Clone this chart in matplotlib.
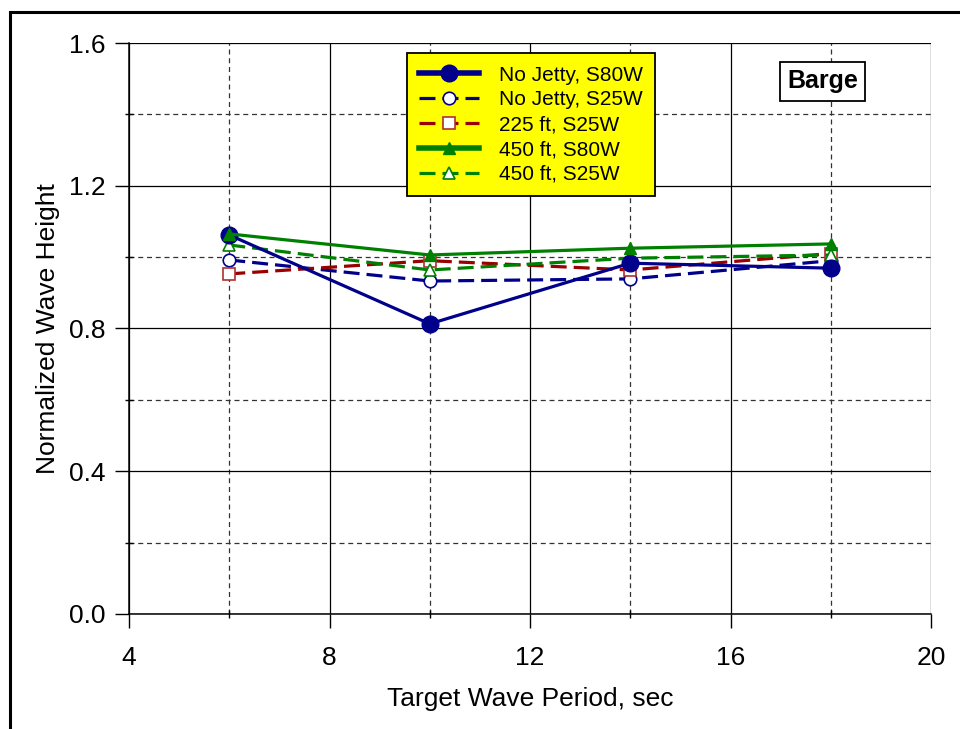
import matplotlib

matplotlib.use("Agg")
import matplotlib.pyplot as plt
from matplotlib.patches import Rectangle
from matplotlib.ticker import FormatStrFormatter, MultipleLocator

plt.rcParams["font.family"] = ["Liberation Sans", "DejaVu Sans"]

periods = [6, 10, 14, 18]

no_jetty_s80w = [1.062, 0.813, 0.983, 0.969]
no_jetty_s25w = [0.992, 0.933, 0.939, 0.990]
ft225_s25w = [0.953, 0.990, 0.964, 1.010]
ft450_s80w = [1.065, 1.006, 1.025, 1.037]
ft450_s25w = [1.034, 0.964, 0.997, 1.006]

NAVY = "#00008b"
DARKRED = "#990000"
GREEN = "#008000"
DASH = (0, (5, 2.2))

fig = plt.figure(figsize=(9.6, 7.29), dpi=100)
ax = fig.add_axes([0.1344, 0.1578, 0.8354, 0.7832])

# outer frame around the whole chart
fig.patches.append(
    Rectangle(
        (10 / 960, -0.1), 1.2, 1.1 - 12 / 729,
        transform=fig.transFigure, fill=False, edgecolor="black",
        linewidth=2.2, zorder=0,
    )
)

ax.plot(periods, no_jetty_s80w, color=NAVY, linewidth=2.3, marker="o",
        markersize=12, markerfacecolor=NAVY, markeredgecolor=NAVY,
        label="No Jetty, S80W", zorder=5)
ax.plot(periods, no_jetty_s25w, color=NAVY, linewidth=2.3, linestyle=DASH,
        marker="o", markersize=9, markerfacecolor="white",
        markeredgecolor=NAVY, markeredgewidth=1.2,
        label="No Jetty, S25W", zorder=4)
ax.plot(periods, ft225_s25w, color=DARKRED, linewidth=2.3, linestyle=DASH,
        marker="s", markersize=9, markerfacecolor="white",
        markeredgecolor="#b03030", markeredgewidth=1.2,
        label="225 ft, S25W", zorder=4)
ax.plot(periods, ft450_s80w, color=GREEN, linewidth=2.3, marker="^",
        markersize=9, markerfacecolor=GREEN, markeredgecolor=GREEN,
        label="450 ft, S80W", zorder=5)
ax.plot(periods, ft450_s25w, color=GREEN, linewidth=2.3, linestyle=DASH,
        marker="^", markersize=9, markerfacecolor="white",
        markeredgecolor=GREEN, markeredgewidth=1.2,
        label="450 ft, S25W", zorder=4)

ax.set_xlim(4, 20)
ax.set_ylim(0, 1.6)
ax.xaxis.set_major_locator(MultipleLocator(4))
ax.xaxis.set_minor_locator(MultipleLocator(2))
ax.yaxis.set_major_locator(MultipleLocator(0.4))
ax.yaxis.set_minor_locator(MultipleLocator(0.2))
ax.yaxis.set_major_formatter(FormatStrFormatter("%.1f"))

ax.grid(which="major", color="black", linewidth=0.9, linestyle="-")
ax.grid(which="minor", color="#333333", linewidth=0.9, linestyle=(0, (4, 3)))
ax.set_axisbelow(True)

for side in ("top", "right"):
    ax.spines[side].set_visible(False)
for side in ("left", "bottom"):
    ax.spines[side].set_linewidth(1.1)

ax.tick_params(which="major", direction="out", length=10, width=1,
               labelsize=19)
ax.tick_params(axis="x", which="major", pad=13)
ax.tick_params(axis="y", which="major", pad=7)
ax.tick_params(which="minor", direction="inout", length=6, width=1)

ax.set_xlabel("Target Wave Period, sec", fontsize=19, labelpad=12)
ax.set_ylabel("Normalized Wave Height", fontsize=19, labelpad=6)

leg = ax.legend(loc="upper left", bbox_to_anchor=(0.3466, 0.9825),
                fontsize=15, handlelength=2.85, handletextpad=0.95,
                labelspacing=0.28, borderpad=0.6, borderaxespad=0,
                fancybox=False, framealpha=1, facecolor="#ffff00",
                edgecolor="black")
leg.get_frame().set_linewidth(1.3)
leg.legend_handles[0].set_linewidth(4)
leg.legend_handles[3].set_linewidth(4)

ax.text(0.8647, 0.933, "Barge", transform=ax.transAxes, fontsize=18,
        fontweight="bold", ha="center", va="center",
        bbox=dict(boxstyle="square,pad=0.3", facecolor="white",
                  edgecolor="black", linewidth=1.3))

fig.savefig("out.png", dpi=100)
